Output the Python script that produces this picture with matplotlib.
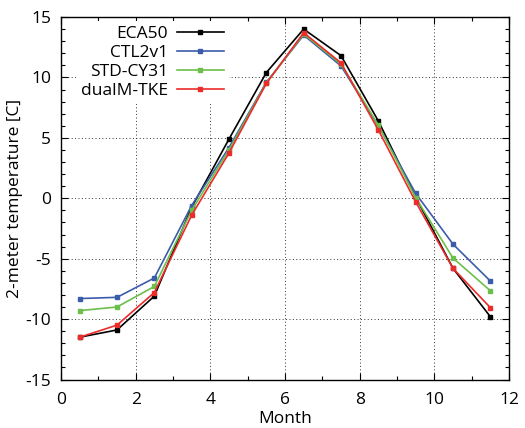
import matplotlib
matplotlib.use("Agg")
import matplotlib.pyplot as plt
from matplotlib.ticker import MultipleLocator

plt.rcParams['font.family'] = ['Open Sans', 'DejaVu Sans']
plt.rcParams['axes.unicode_minus'] = False

months = [0.5, 1.5, 2.5, 3.5, 4.5, 5.5, 6.5, 7.5, 8.5, 9.5, 10.5, 11.5]

eca50 = [-11.5, -10.9, -8.1, -0.75, 4.9, 10.4, 14.0, 11.8, 6.4, 0.1, -5.8, -9.8]
ctl2v1 = [-8.3, -8.2, -6.6, -0.6, 4.2, 9.6, 13.5, 10.95, 6.0, 0.4, -3.8, -6.85]
std_cy31 = [-9.3, -9.0, -7.3, -1.0, 4.0, 9.55, 13.6, 11.1, 6.05, 0.05, -4.95, -7.65]
dualm_tke = [-11.5, -10.5, -7.8, -1.4, 3.75, 9.5, 13.7, 11.2, 5.65, -0.3, -5.8, -9.05]

series = [
    ('ECA50', eca50, 'black'),
    ('CTL2v1', ctl2v1, '#3b5caa'),
    ('STD-CY31', std_cy31, '#6cbf4a'),
    ('dualM-TKE', dualm_tke, '#ec2b2b'),
]

fig = plt.figure(figsize=(5.25, 4.28), dpi=100)
ax = fig.add_axes([61/525, 1 - 379.5/428, (509-61)/525, (379.5-17)/428])

for name, vals, col in series:
    ax.plot(months, vals, color=col, lw=1.2, marker='s', ms=3.5, label=name)

ax.set_xlim(0, 12)
ax.set_ylim(-15, 15)
ax.xaxis.set_major_locator(MultipleLocator(2))
ax.xaxis.set_minor_locator(MultipleLocator(1))
ax.yaxis.set_major_locator(MultipleLocator(5))
ax.yaxis.set_minor_locator(MultipleLocator(1))
ax.tick_params(which='both', direction='in', top=True, right=True, labelsize=12.5, width=0.8)
ax.tick_params(which='major', length=5)
ax.tick_params(which='minor', length=3)
ax.tick_params(axis='x', which='major', pad=9)
ax.tick_params(axis='y', which='major', pad=7)
ax.grid(True, which='major', color='#333333', linestyle=(0, (1, 2.5)), lw=0.7)
ax.set_axisbelow(True)
for sp in ax.spines.values():
    sp.set_linewidth(1.0)

ax.set_xlabel('Month', fontsize=12.5, labelpad=2)
ax.set_ylabel('2-meter temperature [C]', fontsize=12.5, labelpad=2)

leg = ax.legend(loc='upper right', bbox_to_anchor=(229/525, 1 - 21/428),
                bbox_transform=fig.transFigure, markerfirst=False,
                fontsize=12.5, handlelength=2.7, labelspacing=0.16,
                handletextpad=0.5, borderpad=0.3, borderaxespad=0,
                frameon=True, fancybox=False, framealpha=1)
leg.get_frame().set_edgecolor('none')
leg.get_frame().set_facecolor('white')

fig.savefig('out.png', dpi=100)
